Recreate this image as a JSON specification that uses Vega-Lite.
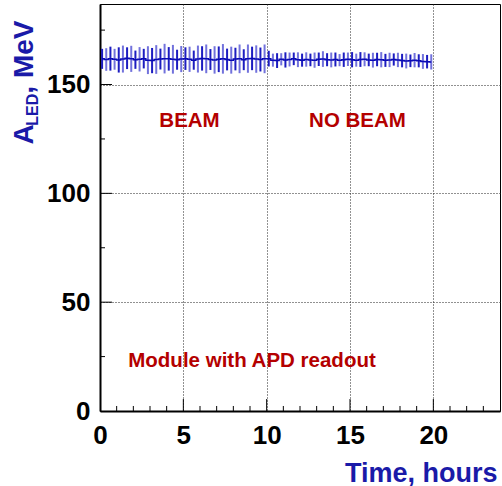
{
  "$schema": "https://vega.github.io/schema/vega-lite/v6.json",
  "autosize": {"type": "none"},
  "padding": {"left": 100, "top": 4, "right": 2, "bottom": 75},
  "width": 400,
  "height": 407,
  "background": "white",
  "config": {
    "font": "Liberation Sans",
    "view": {"stroke": "black", "strokeWidth": 1}
  },
  "datasets": {
    "pts": [
      {"t":0.125,"a":161.8,"e":4.6,"s":"A"},{"t":0.375,"a":161.5,"e":5.2,"s":"B"},
      {"t":0.625,"a":161.9,"e":5.5,"s":"A"},{"t":0.875,"a":161.6,"e":4.8,"s":"B"},
      {"t":1.125,"a":161.3,"e":5.8,"s":"A"},{"t":1.375,"a":161.7,"e":6.2,"s":"B"},
      {"t":1.625,"a":162.1,"e":5.0,"s":"A"},{"t":1.875,"a":161.8,"e":6.0,"s":"B"},
      {"t":2.125,"a":161.4,"e":4.2,"s":"A"},{"t":2.375,"a":161.6,"e":5.6,"s":"B"},
      {"t":2.625,"a":161.9,"e":4.5,"s":"A"},{"t":2.875,"a":161.2,"e":6.4,"s":"B"},
      {"t":3.125,"a":161.0,"e":5.8,"s":"A"},{"t":3.375,"a":161.5,"e":6.6,"s":"B"},
      {"t":3.625,"a":161.7,"e":4.8,"s":"A"},{"t":3.875,"a":161.9,"e":6.8,"s":"B"},
      {"t":4.125,"a":161.8,"e":5.4,"s":"A"},{"t":4.375,"a":161.6,"e":6.6,"s":"B"},
      {"t":4.625,"a":161.4,"e":4.6,"s":"A"},{"t":4.875,"a":161.7,"e":6.0,"s":"B"},
      {"t":5.125,"a":161.9,"e":5.2,"s":"A"},{"t":5.375,"a":161.6,"e":5.8,"s":"B"},
      {"t":5.625,"a":161.2,"e":4.4,"s":"A"},{"t":5.875,"a":161.7,"e":6.2,"s":"B"},
      {"t":6.125,"a":162.0,"e":5.6,"s":"A"},{"t":6.375,"a":161.8,"e":6.6,"s":"B"},
      {"t":6.625,"a":161.5,"e":4.8,"s":"A"},{"t":6.875,"a":161.3,"e":6.3,"s":"B"},
      {"t":7.125,"a":161.6,"e":5.9,"s":"A"},{"t":7.375,"a":161.8,"e":6.8,"s":"B"},
      {"t":7.625,"a":161.5,"e":5.0,"s":"A"},{"t":7.875,"a":161.2,"e":6.2,"s":"B"},
      {"t":8.125,"a":161.7,"e":5.2,"s":"A"},{"t":8.375,"a":161.8,"e":6.6,"s":"B"},
      {"t":8.625,"a":161.4,"e":4.8,"s":"A"},{"t":8.875,"a":161.9,"e":6.5,"s":"B"},
      {"t":9.125,"a":162.0,"e":5.4,"s":"A"},{"t":9.375,"a":161.7,"e":6.3,"s":"B"},
      {"t":9.625,"a":161.5,"e":5.5,"s":"A"},{"t":9.875,"a":161.8,"e":6.6,"s":"B"},
      {"t":10.125,"a":161.9,"e":3.6,"s":"A"},{"t":10.375,"a":161.2,"e":3.0,"s":"B"},
      {"t":10.625,"a":161.0,"e":3.4,"s":"A"},{"t":10.875,"a":161.6,"e":2.8,"s":"B"},
      {"t":11.125,"a":161.3,"e":3.5,"s":"A"},{"t":11.375,"a":161.5,"e":3.2,"s":"B"},
      {"t":11.625,"a":161.8,"e":2.9,"s":"A"},{"t":11.875,"a":161.4,"e":3.4,"s":"B"},
      {"t":12.125,"a":161.2,"e":3.0,"s":"A"},{"t":12.375,"a":161.5,"e":3.3,"s":"B"},
      {"t":12.625,"a":161.3,"e":2.9,"s":"A"},{"t":12.875,"a":161.2,"e":3.5,"s":"B"},
      {"t":13.125,"a":161.6,"e":3.1,"s":"A"},{"t":13.375,"a":161.7,"e":3.6,"s":"B"},
      {"t":13.625,"a":161.4,"e":3.0,"s":"A"},{"t":13.875,"a":161.3,"e":3.4,"s":"B"},
      {"t":14.125,"a":161.5,"e":3.2,"s":"A"},{"t":14.375,"a":161.2,"e":2.8,"s":"B"},
      {"t":14.625,"a":161.4,"e":3.3,"s":"A"},{"t":14.875,"a":161.6,"e":3.1,"s":"B"},
      {"t":15.125,"a":161.4,"e":3.5,"s":"A"},{"t":15.375,"a":161.2,"e":3.0,"s":"B"},
      {"t":15.625,"a":161.5,"e":3.4,"s":"A"},{"t":15.875,"a":161.6,"e":3.2,"s":"B"},
      {"t":16.125,"a":161.3,"e":2.9,"s":"A"},{"t":16.375,"a":161.2,"e":3.4,"s":"B"},
      {"t":16.625,"a":161.5,"e":3.1,"s":"A"},{"t":16.875,"a":161.4,"e":3.5,"s":"B"},
      {"t":17.125,"a":161.1,"e":3.0,"s":"A"},{"t":17.375,"a":161.3,"e":3.3,"s":"B"},
      {"t":17.625,"a":161.5,"e":2.8,"s":"A"},{"t":17.875,"a":161.3,"e":3.3,"s":"B"},
      {"t":18.125,"a":161.0,"e":3.1,"s":"A"},{"t":18.375,"a":160.8,"e":3.4,"s":"B"},
      {"t":18.625,"a":160.9,"e":2.9,"s":"A"},{"t":18.875,"a":161.2,"e":3.3,"s":"B"},
      {"t":19.125,"a":160.9,"e":3.0,"s":"A"},{"t":19.375,"a":160.6,"e":3.4,"s":"B"},
      {"t":19.625,"a":160.5,"e":3.1,"s":"A"},{"t":19.875,"a":160.4,"e":3.5,"s":"B"}
    ],
    "xminor": [{"t":1},{"t":2},{"t":3},{"t":4},{"t":6},{"t":7},{"t":8},{"t":9},{"t":11},{"t":12},{"t":13},{"t":14},{"t":16},{"t":17},{"t":18},{"t":19},{"t":21},{"t":22},{"t":23}],
    "xmajor": [{"t":5},{"t":10},{"t":15},{"t":20}],
    "yminor": [{"a":25},{"a":75},{"a":125},{"a":175}],
    "ymajor": [{"a":50},{"a":100},{"a":150}],
    "notes": [
      {"t": 5.37, "a": 130.6, "txt": "BEAM"},
      {"t": 15.45, "a": 130.6, "txt": "NO BEAM"},
      {"t": 9.12, "a": 20.1, "txt": "Module with APD readout"}
    ],
    "ytitle": [
      {"t": -4.02, "a": 122.4, "txt": "A", "part": "main"},
      {"t": -3.72, "a": 131.1, "txt": "LED", "part": "sub"},
      {"t": -4.02, "a": 145.8, "txt": ", MeV", "part": "main"}
    ]
  },
  "data": {"name": "pts"},
  "layer": [
    {
      "mark": {"type": "errorbar", "thickness": 2},
      "encoding": {
        "x": {"field": "t", "type": "quantitative",
          "scale": {"domain": [0, 24], "nice": false, "zero": false},
          "axis": {"values": [0,5,10,15,20],
            "ticks": false,
            "grid": true, "gridColor": "#222222", "gridDash": [1,2], "gridWidth": 1, "gridOpacity": 1,
            "domain": true, "domainColor": "black", "domainWidth": 2,
            "labelFont": "Liberation Sans", "labelFontWeight": "bold", "labelFontSize": 26, "labelColor": "black", "labelPadding": 11, "labelFlush": false, "labelOverlap": false, "labelBound": false,
            "title": "Time, hours", "titleFont": "Liberation Sans", "titleFontWeight": "bold", "titleFontSize": 27, "titleColor": "#1a1aa8",
            "titleAnchor": "end", "titleAlign": "right", "titleBaseline": "alphabetic", "titleX": 397, "titleY": 70}
        },
        "y": {"field": "a", "type": "quantitative",
          "scale": {"domain": [0, 187], "nice": false, "zero": false},
          "axis": {"values": [0,50,100,150],
            "ticks": false,
            "grid": true, "gridColor": "#222222", "gridDash": [1,2], "gridWidth": 1, "gridOpacity": 1,
            "domain": true, "domainColor": "black", "domainWidth": 2,
            "labelFont": "Liberation Sans", "labelFontWeight": "bold", "labelFontSize": 26, "labelColor": "black", "labelPadding": 10, "labelBaseline": "middle", "labelFlush": false, "labelOverlap": false, "labelBound": false,
            "title": null}
        },
        "yError": {"field": "e"},
        "color": {"field": "s", "type": "nominal", "scale": {"domain": ["A","B"], "range": ["#1c1cc0", "#7272dc"]}, "legend": null}
      }
    },
    {
      "mark": {"type": "line", "interpolate": "step", "color": "#0a0ab4", "strokeWidth": 1.5},
      "encoding": {
        "x": {"field": "t", "type": "quantitative"},
        "y": {"field": "a", "type": "quantitative"}
      }
    },
    {
      "data": {"name": "xminor"},
      "mark": {"type": "rule", "color": "black", "strokeWidth": 1},
      "encoding": {
        "x": {"field": "t", "type": "quantitative"},
        "y": {"datum": 0},
        "y2": {"datum": 2.3}
      }
    },
    {
      "data": {"name": "xmajor"},
      "mark": {"type": "rule", "color": "black", "strokeWidth": 1},
      "encoding": {
        "x": {"field": "t", "type": "quantitative"},
        "y": {"datum": 0},
        "y2": {"datum": 5.5}
      }
    },
    {
      "data": {"name": "yminor"},
      "mark": {"type": "rule", "color": "black", "strokeWidth": 1},
      "encoding": {
        "y": {"field": "a", "type": "quantitative"},
        "x": {"datum": 0},
        "x2": {"datum": 0.3}
      }
    },
    {
      "data": {"name": "ymajor"},
      "mark": {"type": "rule", "color": "black", "strokeWidth": 1},
      "encoding": {
        "y": {"field": "a", "type": "quantitative"},
        "x": {"datum": 0},
        "x2": {"datum": 0.72}
      }
    },
    {
      "data": {"name": "notes"},
      "mark": {"type": "text", "font": "Liberation Sans", "fontWeight": "bold", "fontSize": 20.5, "color": "#b40000", "align": "center", "baseline": "alphabetic"},
      "encoding": {
        "x": {"field": "t", "type": "quantitative"},
        "y": {"field": "a", "type": "quantitative"},
        "text": {"field": "txt"}
      }
    },
    {
      "data": {"name": "ytitle"},
      "transform": [{"filter": "datum.part === 'main'"}],
      "mark": {"type": "text", "font": "Liberation Sans", "fontWeight": "bold", "fontSize": 28, "color": "#1a1aa8", "align": "left", "baseline": "alphabetic", "angle": 270},
      "encoding": {
        "x": {"field": "t", "type": "quantitative"},
        "y": {"field": "a", "type": "quantitative"},
        "text": {"field": "txt"}
      }
    },
    {
      "data": {"name": "ytitle"},
      "transform": [{"filter": "datum.part === 'sub'"}],
      "mark": {"type": "text", "font": "Liberation Sans", "fontWeight": "bold", "fontSize": 16, "color": "#1a1aa8", "align": "left", "baseline": "alphabetic", "angle": 270},
      "encoding": {
        "x": {"field": "t", "type": "quantitative"},
        "y": {"field": "a", "type": "quantitative"},
        "text": {"field": "txt"}
      }
    }
  ]
}
